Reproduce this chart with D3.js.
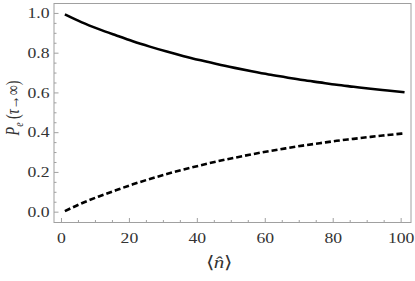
<!DOCTYPE html>
<html><head><meta charset="utf-8">
<script src="https://cdn.jsdelivr.net/npm/d3@7"></script>
<style>body{margin:0;background:#fff}</style>
</head><body><svg id="c" width="415" height="281"></svg>
<script>
const nVals = [1,6,11,16,21,26,31,36,41,46,51,56,61,66,71,76,81,86,91,96,101];
const solidVals = [0.995,0.955,0.921,0.890,0.860,0.833,0.808,0.785,0.764,0.744,0.726,0.709,0.693,0.679,0.665,0.653,0.641,0.631,0.621,0.612,0.603];
const dashedVals = [0.005,0.045,0.079,0.110,0.140,0.167,0.192,0.215,0.236,0.256,0.274,0.291,0.307,0.321,0.335,0.347,0.359,0.369,0.379,0.388,0.397];
const xTicks = [0,20,40,60,80,100];
const yTicks = [0.0,0.2,0.4,0.6,0.8,1.0];

const svg = d3.select("#c");
const L=54,R=411,T=3.5,B=222.5;
const x = d3.scaleLinear().domain([-2.2,102.9]).range([L,R]);
const y = d3.scaleLinear().domain([-0.052,1.05]).range([B,T]);
const frameCol="#a0a0a0", textCol="#333333";
const FF = "Liberation Serif";
const SX = 1.28;

const xMinor = d3.range(0,101,5).filter(v=>v%20!==0);
const yMinor = d3.range(0,21).map(i=>i*0.05).filter((v,i)=>i%4!==0);
const g = svg.append("g");
g.selectAll(".xmin").data(xMinor).join("line").attr("x1",d=>x(d)).attr("x2",d=>x(d)).attr("y1",B).attr("y2",B-2.5).attr("stroke",frameCol);
g.selectAll(".xmaj").data(xTicks).join("line").attr("x1",d=>x(d)).attr("x2",d=>x(d)).attr("y1",B).attr("y2",B-4.5).attr("stroke",frameCol);
g.selectAll(".ymin").data(yMinor).join("line").attr("y1",d=>y(d)).attr("y2",d=>y(d)).attr("x1",L).attr("x2",L+2.5).attr("stroke",frameCol);
g.selectAll(".ymaj").data(yTicks).join("line").attr("y1",d=>y(d)).attr("y2",d=>y(d)).attr("x1",L).attr("x2",L+4.5).attr("stroke",frameCol);

svg.append("rect").attr("x",L).attr("y",T).attr("width",R-L).attr("height",B-T).attr("fill","none").attr("stroke",frameCol).attr("stroke-width",1);

svg.selectAll(".xl").data(xTicks).join("text").attr("transform",d=>`translate(${x(d)},243) scale(${SX},1)`).attr("text-anchor","middle")
  .attr("font-family",FF).attr("font-size",13.8).attr("fill",textCol).text(d=>d);
svg.selectAll(".yl").data(yTicks).join("text").attr("transform",d=>`translate(49.5,${y(d)+4.7}) scale(${SX},1)`).attr("text-anchor","end")
  .attr("font-family",FF).attr("font-size",13.8).attr("fill",textCol).text(d=>d.toFixed(1));

const xl = svg.append("text").attr("transform",`translate(219,268) scale(${SX},1)`).attr("text-anchor","middle").attr("font-family",FF).attr("font-size",16.5).attr("fill",textCol);
xl.append("tspan").text("\u27E8");
xl.append("tspan").attr("font-style","italic").text("n\u0302");
xl.append("tspan").text("\u27E9");

const yl = svg.append("text").attr("transform",`translate(19,108) scale(${SX},1) rotate(-90)`).attr("text-anchor","middle").attr("font-family",FF).attr("font-size",14).attr("fill",textCol);
yl.append("tspan").attr("font-style","italic").text("P");
yl.append("tspan").attr("font-style","italic").attr("font-size",10).attr("dy",3).text("e");
yl.append("tspan").attr("dy",-3).text(" (");
yl.append("tspan").attr("font-style","italic").text("\u03C4");
yl.append("tspan").text("\u2192\u221E)");

const line = d3.line().x((d,i)=>x(nVals[i])).y(d=>y(d)).curve(d3.curveMonotoneX);
svg.append("path").attr("d",line(solidVals)).attr("fill","none").attr("stroke","#000").attr("stroke-width",2.6);
svg.append("path").attr("d",line(dashedVals)).attr("fill","none").attr("stroke","#000").attr("stroke-width",2.6).attr("stroke-dasharray","6,3");
</script></body></html>
